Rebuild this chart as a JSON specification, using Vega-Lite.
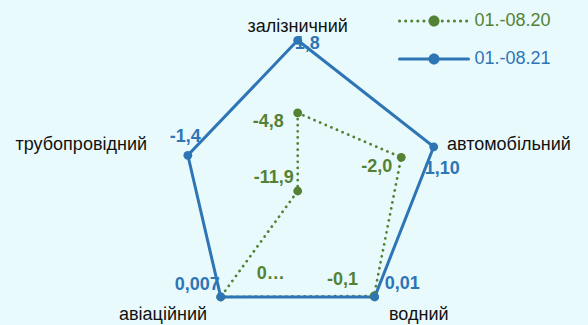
{
  "$schema": "https://vega.github.io/schema/vega-lite/v6.json",
  "width": 588,
  "height": 325,
  "autosize": "none",
  "padding": 0,
  "background": "#E9FAFC",
  "config": {"view": {"stroke": null}, "font": "Liberation Sans"},
  "data": {
    "values": [
      {"series": "01.-08.20", "axis": "залізничний", "idx": 0, "value": -4.8, "label": "-4,8"},
      {"series": "01.-08.20", "axis": "автомобільний", "idx": 1, "value": -2.0, "label": "-2,0"},
      {"series": "01.-08.20", "axis": "водний", "idx": 2, "value": -0.1, "label": "-0,1"},
      {"series": "01.-08.20", "axis": "авіаційний", "idx": 3, "value": 0.0, "label": "0…"},
      {"series": "01.-08.20", "axis": "трубопровідний", "idx": 4, "value": -11.9, "label": "-11,9"},
      {"series": "01.-08.21", "axis": "залізничний", "idx": 0, "value": 1.8, "label": "1,8"},
      {"series": "01.-08.21", "axis": "автомобільний", "idx": 1, "value": 1.1, "label": "1,10"},
      {"series": "01.-08.21", "axis": "водний", "idx": 2, "value": 0.01, "label": "0,01"},
      {"series": "01.-08.21", "axis": "авіаційний", "idx": 3, "value": 0.007, "label": "0,007"},
      {"series": "01.-08.21", "axis": "трубопровідний", "idx": 4, "value": -1.4, "label": "-1,4"}
    ]
  },
  "transform": [
    {"calculate": "datum.series + ' '", "as": "series_"},
    {"calculate": "datum.idx * 2 * PI / 5", "as": "ang"},
    {"calculate": "(datum.value + 11.9) * sin(datum.ang)", "as": "px"},
    {"calculate": "(datum.value + 11.9) * cos(datum.ang)", "as": "py"},
    {"calculate": "14.27 * sin(datum.ang)", "as": "lx"},
    {"calculate": "14.27 * cos(datum.ang)", "as": "ly"}
  ],
  "encoding": {
    "x": {"field": "px", "type": "quantitative", "scale": {"domain": [-27.064, 26.391], "nice": false, "zero": false}, "axis": null},
    "y": {"field": "py", "type": "quantitative", "scale": {"domain": [-12.182, 17.364], "nice": false, "zero": false}, "axis": null}
  },
  "layer": [
    {
      "transform": [{"filter": "datum.series === '01.-08.20'"}],
      "mark": {"type": "line", "interpolate": "linear-closed", "strokeWidth": 2.75, "strokeDash": [0.1, 6], "strokeCap": "round"},
      "encoding": {
        "order": {"field": "idx", "type": "quantitative"},
        "stroke": {
          "field": "series",
          "type": "nominal",
          "scale": {"domain": ["01.-08.20", "01.-08.21"], "range": ["#548235", "#2E75B6"]},
          "legend": {
            "orient": "none",
            "legendX": 425,
            "legendY": 12,
            "title": null,
            "padding": 0,
            "symbolType": "M-6.9,0L6.9,0",
            "symbolSize": 100,
            "symbolStrokeWidth": 3,
            "labelFontSize": 18,
            "labelFont": "Liberation Sans",
            "labelOffset": 31.5,
            "rowPadding": 20,
            "encode": {
              "symbols": {
                "update": {
                  "stroke": {"signal": "datum.value === '01.-08.20' ? '#548235' : '#2E75B6'"},
                  "strokeOpacity": {"value": 1},
                  "strokeDash": {"signal": "datum.value === '01.-08.20' ? [0.1, 6] : [1, 0]"},
                  "strokeCap": {"value": "round"},
                  "strokeWidth": {"value": 3},
                  "opacity": {"value": 1}
                }
              },
              "labels": {
                "update": {
                  "fill": {"signal": "datum.value === '01.-08.20' ? '#548235' : '#2E75B6'"}
                }
              }
            }
          }
        }
      }
    },
    {
      "transform": [{"filter": "datum.series === '01.-08.21'"}],
      "mark": {"type": "line", "interpolate": "linear-closed", "strokeWidth": 3},
      "encoding": {
        "order": {"field": "idx", "type": "quantitative"},
        "stroke": {
          "field": "series",
          "type": "nominal",
          "scale": {"domain": ["01.-08.20", "01.-08.21"], "range": ["#548235", "#2E75B6"]}
        }
      }
    },
    {
      "transform": [{"filter": "datum.series === '01.-08.21' && datum.idx === 0"}],
      "mark": {"type": "text", "fontSize": 18, "fontWeight": "bold", "align": "left", "baseline": "middle", "dx": -3, "dy": 4},
      "encoding": {"text": {"field": "label"}, "fill": {"field": "series_", "type": "nominal"}}
    },
    {
      "transform": [{"filter": "datum.series === '01.-08.21' && datum.idx === 1"}],
      "mark": {"type": "text", "fontSize": 18, "fontWeight": "bold", "align": "left", "baseline": "middle", "dx": -9, "dy": 22},
      "encoding": {"text": {"field": "label"}, "fill": {"field": "series_", "type": "nominal"}}
    },
    {
      "transform": [{"filter": "datum.series === '01.-08.21' && datum.idx === 2"}],
      "mark": {"type": "text", "fontSize": 18, "fontWeight": "bold", "align": "left", "baseline": "middle", "dx": 10, "dy": -13},
      "encoding": {"text": {"field": "label"}, "fill": {"field": "series_", "type": "nominal"}}
    },
    {
      "transform": [{"filter": "datum.series === '01.-08.21' && datum.idx === 3"}],
      "mark": {"type": "text", "fontSize": 18, "fontWeight": "bold", "align": "right", "baseline": "middle", "dx": -1, "dy": -12},
      "encoding": {"text": {"field": "label"}, "fill": {"field": "series_", "type": "nominal"}}
    },
    {
      "transform": [{"filter": "datum.series === '01.-08.21' && datum.idx === 4"}],
      "mark": {"type": "text", "fontSize": 18, "fontWeight": "bold", "align": "left", "baseline": "middle", "dx": -18, "dy": -18},
      "encoding": {"text": {"field": "label"}, "fill": {"field": "series_", "type": "nominal"}}
    },
    {
      "transform": [{"filter": "datum.series === '01.-08.20' && datum.idx === 0"}],
      "mark": {"type": "text", "fontSize": 18, "fontWeight": "bold", "align": "right", "baseline": "middle", "dx": -14, "dy": 9},
      "encoding": {"text": {"field": "label"}, "fill": {"field": "series_", "type": "nominal"}}
    },
    {
      "transform": [{"filter": "datum.series === '01.-08.20' && datum.idx === 1"}],
      "mark": {"type": "text", "fontSize": 18, "fontWeight": "bold", "align": "right", "baseline": "middle", "dx": -9, "dy": 10},
      "encoding": {"text": {"field": "label"}, "fill": {"field": "series_", "type": "nominal"}}
    },
    {
      "transform": [{"filter": "datum.series === '01.-08.20' && datum.idx === 2"}],
      "mark": {"type": "text", "fontSize": 18, "fontWeight": "bold", "align": "right", "baseline": "middle", "dx": -16, "dy": -16},
      "encoding": {"text": {"field": "label"}, "fill": {"field": "series_", "type": "nominal"}}
    },
    {
      "transform": [{"filter": "datum.series === '01.-08.20' && datum.idx === 3"}],
      "mark": {"type": "text", "fontSize": 18, "fontWeight": "bold", "align": "left", "baseline": "middle", "dx": 36, "dy": -23},
      "encoding": {"text": {"field": "label"}, "fill": {"field": "series_", "type": "nominal"}}
    },
    {
      "transform": [{"filter": "datum.series === '01.-08.20' && datum.idx === 4"}],
      "mark": {"type": "text", "fontSize": 18, "fontWeight": "bold", "align": "right", "baseline": "middle", "dx": -4, "dy": -13},
      "encoding": {"text": {"field": "label"}, "fill": {"field": "series_", "type": "nominal"}}
    },
    {
      "mark": {"type": "point", "filled": true, "size": 78, "opacity": 1, "shape": "circle"},
      "encoding": {
        "fill": {
          "field": "series_",
          "type": "nominal",
          "scale": {"domain": ["01.-08.20 ", "01.-08.21 "], "range": ["#548235", "#2E75B6"]},
          "legend": {
            "orient": "none",
            "legendX": 425,
            "legendY": 12,
            "title": null,
            "padding": 0,
            "symbolType": "M1.1,0A1.1,1.1,0,1,1,-1.1,0A1.1,1.1,0,1,1,1.1,0Z",
            "symbolSize": 100,
            "symbolStrokeWidth": 3,
            "labelFontSize": 18,
            "labelFont": "Liberation Sans",
            "labelOffset": 31.5,
            "labelColor": "transparent",
            "rowPadding": 20,
            "encode": {
              "symbols": {
                "update": {
                  "fill": {"signal": "indexof(datum.value, '08.20') >= 0 ? '#548235' : '#2E75B6'"},
                  "stroke": {"signal": "indexof(datum.value, '08.20') >= 0 ? '#548235' : '#2E75B6'"},
                  "fillOpacity": {"value": 1},
                  "strokeOpacity": {"value": 1},
                  "strokeWidth": {"value": 3},
                  "opacity": {"value": 1}
                }
              }
            }
          }
        }
      }
    },
    {
      "transform": [{"filter": "datum.series === '01.-08.21' && datum.idx === 0"}],
      "mark": {"type": "text", "fontSize": 18, "align": "center", "baseline": "alphabetic", "dy": -2, "color": "#111111"},
      "encoding": {
        "x": {"field": "lx", "type": "quantitative", "scale": {"domain": [-27.064, 26.391], "nice": false, "zero": false}, "axis": null},
        "y": {"field": "ly", "type": "quantitative", "scale": {"domain": [-12.182, 17.364], "nice": false, "zero": false}, "axis": null},
        "text": {"field": "axis"}
      }
    },
    {
      "transform": [{"filter": "datum.series === '01.-08.21' && datum.idx === 1"}],
      "mark": {"type": "text", "fontSize": 18, "align": "left", "baseline": "alphabetic", "dx": 0, "dy": 7.5, "color": "#111111"},
      "encoding": {
        "x": {"field": "lx", "type": "quantitative", "scale": {"domain": [-27.064, 26.391], "nice": false, "zero": false}, "axis": null},
        "y": {"field": "ly", "type": "quantitative", "scale": {"domain": [-12.182, 17.364], "nice": false, "zero": false}, "axis": null},
        "text": {"field": "axis"}
      }
    },
    {
      "transform": [{"filter": "datum.series === '01.-08.21' && datum.idx === 2"}],
      "mark": {"type": "text", "fontSize": 18, "align": "left", "baseline": "alphabetic", "dx": -1, "dy": 2, "color": "#111111"},
      "encoding": {
        "x": {"field": "lx", "type": "quantitative", "scale": {"domain": [-27.064, 26.391], "nice": false, "zero": false}, "axis": null},
        "y": {"field": "ly", "type": "quantitative", "scale": {"domain": [-12.182, 17.364], "nice": false, "zero": false}, "axis": null},
        "text": {"field": "axis"}
      }
    },
    {
      "transform": [{"filter": "datum.series === '01.-08.21' && datum.idx === 3"}],
      "mark": {"type": "text", "fontSize": 18, "align": "right", "baseline": "alphabetic", "dx": 1.6, "dy": 2, "color": "#111111"},
      "encoding": {
        "x": {"field": "lx", "type": "quantitative", "scale": {"domain": [-27.064, 26.391], "nice": false, "zero": false}, "axis": null},
        "y": {"field": "ly", "type": "quantitative", "scale": {"domain": [-12.182, 17.364], "nice": false, "zero": false}, "axis": null},
        "text": {"field": "axis"}
      }
    },
    {
      "transform": [{"filter": "datum.series === '01.-08.21' && datum.idx === 4"}],
      "mark": {"type": "text", "fontSize": 18, "align": "right", "baseline": "alphabetic", "dx": -1.4, "dy": 7.5, "color": "#111111"},
      "encoding": {
        "x": {"field": "lx", "type": "quantitative", "scale": {"domain": [-27.064, 26.391], "nice": false, "zero": false}, "axis": null},
        "y": {"field": "ly", "type": "quantitative", "scale": {"domain": [-12.182, 17.364], "nice": false, "zero": false}, "axis": null},
        "text": {"field": "axis"}
      }
    }
  ]
}
